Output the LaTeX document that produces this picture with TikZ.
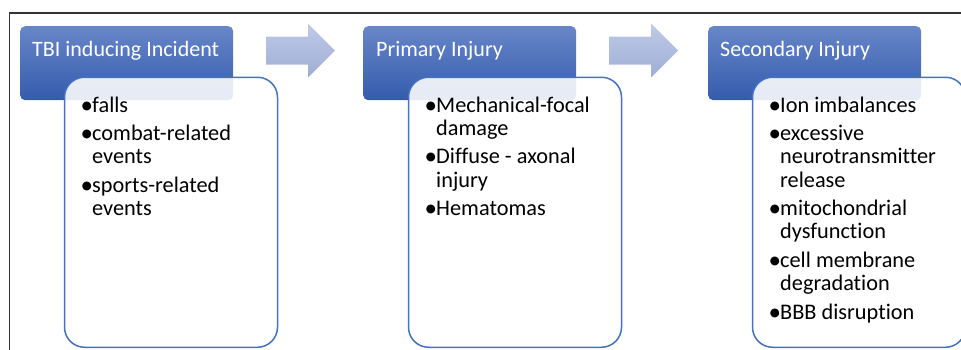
\documentclass[tikz,border=0pt]{standalone}
\usepackage{fontspec}
\setmainfont[Ligatures=NoCommon]{Carlito}
\definecolor{hdrtop}{RGB}{104,134,201}
\definecolor{hdrbot}{RGB}{52,92,172}
\definecolor{boxline}{RGB}{68,114,196}
\definecolor{arrtop}{RGB}{192,202,232}
\definecolor{arrbot}{RGB}{158,174,214}
\definecolor{framecol}{RGB}{50,50,50}
\begin{document}
\begin{tikzpicture}[x=1pt,y=-1pt,
  hdr/.style={rounded corners=5pt, top color=hdrtop, bottom color=hdrbot, draw=none,
    minimum width=213pt, minimum height=74pt, inner sep=0pt, anchor=north west},
  body/.style={rounded corners=20pt, draw=boxline, line width=1.5pt, fill=white, fill opacity=0.88,
    minimum width=213pt, minimum height=270pt, inner sep=0pt, anchor=north west},
  htext/.style={text=white, font=\fontsize{22}{24}\selectfont, anchor=base west, inner sep=0pt},
  btext/.style={text=black, font=\fontsize{22.3}{24}\selectfont, anchor=base west, inner sep=0pt},
  bul/.style={text=black, font=\fontsize{25}{24}\selectfont, anchor=base west, inner sep=0pt},
  blockarrow/.style={top color=arrtop, bottom color=arrbot, draw=none},
  frameline/.style={draw=framecol, line width=1.4pt}]
\useasboundingbox (0,0) rectangle (961,349);
\clip (0,0) rectangle (961,349);
% frame
\coordinate (fr1) at (962,13);
\coordinate (fr2) at (9.5,13);
\coordinate (fr3) at (9.5,350);
\draw[frameline] (fr1) -- (fr2) -- (fr3);
% headers
\node[hdr] (h1) at (20,26) {};
\node[hdr] (h2) at (363,26) {};
\node[hdr] (h3) at (708,26) {};
\node[htext] (ht1) at (32,56) {TBI inducing Incident};
\node[htext] (ht2) at (376,56) {Primary Injury};
\node[htext] (ht3) at (720,56) {Secondary Injury};
% bodies
\node[body] (b1) at (63.75,76.5) {};
\node[body] (b2) at (407.75,76.5) {};
\node[body] (b3) at (751.75,76.5) {};
% arrows
\shade[blockarrow] (266,36.5) -- (308,36.5) -- (308,23.5) -- (335,50.5) -- (308,77.5) -- (308,64.5) -- (266,64.5) -- cycle;
\shade[blockarrow] (609,36.5) -- (651,36.5) -- (651,23.5) -- (678,50.5) -- (651,77.5) -- (651,64.5) -- (609,64.5) -- cycle;
% column 1
\node[bul] (a1b) at (80.5,113) {•};
\node[btext] (a1) at (92,112) {falls};
\node[bul] (a2b) at (80.5,141) {•};
\node[btext] (a2) at (92,140) {combat-related};
\node[btext] (a3) at (92,163.5) {events};
\node[bul] (a4b) at (80.5,193) {•};
\node[btext] (a4) at (92,192) {sports-related};
\node[btext] (a5) at (92,215.5) {events};
% column 2
\node[bul] (c1b) at (424.5,113) {•};
\node[btext] (c1) at (436,112) {Mechanical-focal};
\node[btext] (c2) at (436,135.5) {damage};
\node[bul] (c3b) at (424.5,164.5) {•};
\node[btext] (c3) at (436,163.5) {Diffuse - axonal};
\node[btext] (c4) at (436,187) {injury};
\node[bul] (c5b) at (424.5,216) {•};
\node[btext] (c5) at (436,215) {Hematomas};
% column 3
\node[bul] (d1b) at (768.5,113) {•};
\node[btext] (d1) at (780,112) {Ion imbalances};
\node[bul] (d2b) at (768.5,141) {•};
\node[btext] (d2) at (780,140) {excessive};
\node[btext] (d3) at (780,163.5) {neurotransmitter};
\node[btext] (d4) at (780,187) {release};
\node[bul] (d5b) at (768.5,216) {•};
\node[btext] (d5) at (780,215) {mitochondrial};
\node[btext] (d6) at (780,238.5) {dysfunction};
\node[bul] (d7b) at (768.5,268) {•};
\node[btext] (d7) at (780,267) {cell membrane};
\node[btext] (d8) at (780,290) {degradation};
\node[bul] (d9b) at (768.5,320) {•};
\node[btext] (d9) at (780,319) {BBB disruption};
\end{tikzpicture}
\end{document}
